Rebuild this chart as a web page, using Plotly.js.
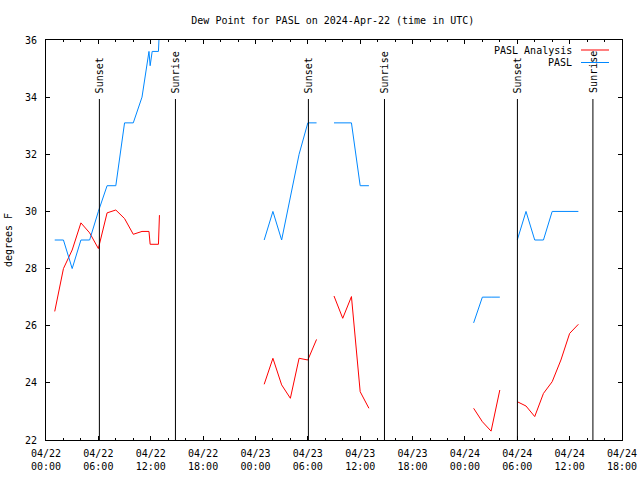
<!DOCTYPE html>
<html>
<head>
<meta charset="utf-8">
<script src="https://cdn.plot.ly/plotly-3.0.1.min.js"></script>
<style>html,body{margin:0;padding:0;background:#fff;}#chart{width:640px;height:480px;}</style>
</head>
<body>
<div id="chart"></div>
<script>
// Observation times (UTC); null entries break the lines
const times = [
  '2024-04-22 01:00','2024-04-22 02:00','2024-04-22 03:00','2024-04-22 04:00','2024-04-22 05:00',
  '2024-04-22 06:00','2024-04-22 07:00','2024-04-22 08:00','2024-04-22 09:00','2024-04-22 10:00',
  '2024-04-22 11:00','2024-04-22 11:48','2024-04-22 11:56','2024-04-22 12:10','2024-04-22 12:53',
  '2024-04-22 13:00',
  '2024-04-22 18:00',
  '2024-04-23 01:00','2024-04-23 02:00','2024-04-23 03:00','2024-04-23 04:00','2024-04-23 05:00',
  '2024-04-23 06:00','2024-04-23 07:00',
  '2024-04-23 08:00',
  '2024-04-23 09:00','2024-04-23 10:00','2024-04-23 11:00','2024-04-23 12:00','2024-04-23 13:00',
  '2024-04-23 18:00',
  '2024-04-24 01:00','2024-04-24 02:00','2024-04-24 03:00','2024-04-24 04:00',
  '2024-04-24 05:00',
  '2024-04-24 06:00','2024-04-24 07:00','2024-04-24 08:00','2024-04-24 09:00','2024-04-24 10:00',
  '2024-04-24 11:00','2024-04-24 12:00','2024-04-24 13:00'
];
// PASL observed dew point (F)
const paslObs = [
  29.0, 29.0, 28.0, 29.0, 29.0,
  30.0, 30.9, 30.9, 33.1, 33.1,
  34.0, 35.6, 35.1, 35.6, 35.6,
  36.4,
  null,
  29.0, 30.0, 29.0, 30.5, 32.0,
  33.1, 33.1,
  null,
  33.1, 33.1, 33.1, 30.9, 30.9,
  null,
  26.1, 27.0, 27.0, 27.0,
  null,
  29.0, 30.0, 29.0, 29.0, 30.0,
  30.0, 30.0, 30.0
];
// PASL analysis dew point (F)
const paslAnalysis = [
  26.5, 28.0, 28.65, 29.6, 29.25,
  28.7, 29.95, 30.05, 29.75, 29.2,
  29.3, 29.3, 28.85, 28.85, 28.85,
  29.87,
  null,
  23.95, 24.86, 23.93, 23.46, 24.86,
  24.8, 25.52,
  null,
  27.04, 26.26, 27.02, 23.69, 23.11,
  null,
  23.11, 22.64, 22.31, 23.75,
  null,
  23.34, 23.19, 22.82, 23.63, 24.04,
  24.8, 25.73, 26.05
];
// Sunset / sunrise events
const eventTimes = ['2024-04-22 06:07','2024-04-22 14:50','2024-04-23 06:04','2024-04-23 14:47','2024-04-24 06:01','2024-04-24 14:40'];
const eventLabels = ['Sunset','Sunrise','Sunset','Sunrise','Sunset','Sunrise'];
const seriesNames = ['PASL Analysis','PASL'];
const seriesColors = ['#ff0000','#0088ff'];

const FONT = 'DejaVu Sans Mono, monospace';

const traces = [
  {x: times, y: paslAnalysis, name: seriesNames[0], type: 'scatter', mode: 'lines',
   line: {color: seriesColors[0], width: 1}, connectgaps: false, showlegend: false},
  {x: times, y: paslObs, name: seriesNames[1], type: 'scatter', mode: 'lines',
   line: {color: seriesColors[1], width: 1}, connectgaps: false, showlegend: false}
];

const lineTop = (440 - 99) / 400;
const shapes = eventTimes.map(t => ({
  type: 'line', xref: 'x', yref: 'paper', x0: t, x1: t, y0: 0, y1: lineTop,
  line: {color: '#000', width: 1}
}));
const annotations = eventTimes.map((t, i) => ({
  x: t, xref: 'x', y: lineTop, yref: 'paper', text: eventLabels[i], textangle: -90,
  showarrow: false, xanchor: 'center', yanchor: 'bottom', xshift: 1, yshift: 4,
  font: {family: FONT, size: 10, color: '#000'}
}));

// manual gnuplot-style legend (text left, sample right)
const legY = [(440 - 50) / 400, (440 - 62.5) / 400];
seriesNames.forEach((n, i) => {
  annotations.push({x: (574 - 46) / 576, xref: 'paper', y: legY[i], yref: 'paper', text: n,
    showarrow: false, xanchor: 'right', yanchor: 'middle',
    font: {family: FONT, size: 10, color: '#000'}});
  shapes.push({type: 'line', xref: 'paper', yref: 'paper', x0: (581 - 46) / 576, x1: (609 - 46) / 576,
    y0: legY[i], y1: legY[i], line: {color: seriesColors[i], width: 1}});
});

const layout = {
  width: 640, height: 480,
  margin: {l: 46, r: 18, t: 40, b: 40},
  paper_bgcolor: '#fff', plot_bgcolor: '#fff',
  font: {family: FONT, size: 10, color: '#000'},
  title: {text: 'Dew Point for PASL on 2024-Apr-22 (time in UTC)', x: 0.52, xanchor: 'center',
          y: 1 - 20 / 480, yanchor: 'middle', font: {family: FONT, size: 10, color: '#000'}},
  xaxis: {
    type: 'date', range: ['2024-04-22 00:00', '2024-04-24 18:00'],
    tick0: '2024-04-22 00:00', dtick: 6 * 3600 * 1000, tickformat: '%m/%d<br>%H:%M',
    ticks: 'inside', ticklen: 4, tickcolor: '#000', tickwidth: 1,
    minor: {dtick: 2 * 3600 * 1000, ticks: 'inside', ticklen: 2, tickcolor: '#000', showgrid: false},
    showline: true, linecolor: '#000', linewidth: 1, mirror: 'allticks',
    showgrid: false, zeroline: false, ticklabelstandoff: 4,
    tickfont: {family: FONT, size: 10, color: '#000'}
  },
  yaxis: {
    range: [22, 36], dtick: 2, tick0: 22,
    ticks: 'inside', ticklen: 4, tickcolor: '#000', tickwidth: 1,
    showline: true, linecolor: '#000', linewidth: 1, mirror: 'allticks',
    showgrid: false, zeroline: false, ticklabelstandoff: 6,
    title: {text: 'degrees F', standoff: 10, font: {family: FONT, size: 10, color: '#000'}},
    tickfont: {family: FONT, size: 10, color: '#000'}
  },
  shapes: shapes,
  annotations: annotations,
  showlegend: false
};

Plotly.newPlot('chart', traces, layout, {staticPlot: true, displayModeBar: false});
</script>
</body>
</html>
